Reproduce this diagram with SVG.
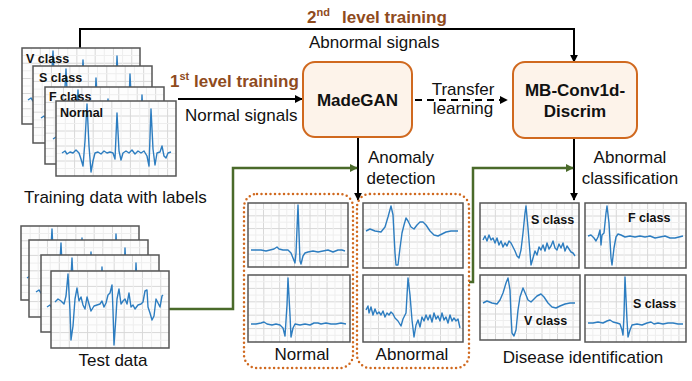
<svg xmlns="http://www.w3.org/2000/svg" xmlns:xlink="http://www.w3.org/1999/xlink" width="692" height="381" viewBox="0 0 692 381">
<style>
.t{font-family:"Liberation Sans",Arial,sans-serif;font-size:17px;fill:#111}
.b{font-weight:bold}
.br{font-family:"Liberation Sans",Arial,sans-serif;font-size:17px;font-weight:bold;fill:#8f4b1d}
.lab{font-family:"Liberation Sans",Arial,sans-serif;font-size:12.5px;font-weight:bold;fill:#111}
.frame{fill:none;stroke:#555;stroke-width:1.5}
.ecg{fill:none;stroke:#2d7dc0;stroke-width:1.4;stroke-linejoin:round}
.box{fill:#fdf3ea;stroke:#d0691f;stroke-width:2}
.dot{fill:none;stroke:#d0691f;stroke-width:2.5;stroke-dasharray:0 4.5;stroke-linecap:round}
.ln{fill:none;stroke:#000;stroke-width:2}
.gr{fill:none;stroke:#4a6a2a;stroke-width:2.5}
</style>
<defs>
<symbol id="grid" viewBox="0 0 100 65" preserveAspectRatio="none">
<rect width="100" height="65" fill="#fdfdfd"/>
<path d="M15.5 0V65M31 0V65M46.5 0V65M62 0V65M77.5 0V65M93 0V65M0 13H100M0 26H100M0 39H100M0 52H100" stroke="#d8d8d8" stroke-width="1" vector-effect="non-scaling-stroke"/>
<path d="M7.75 0V65M23.25 0V65M38.75 0V65M54.25 0V65M69.75 0V65M85.25 0V65M0 6.5H100M0 19.5H100M0 32.5H100M0 45.5H100M0 58.5H100" stroke="#eeeeee" stroke-width="1" vector-effect="non-scaling-stroke"/>
</symbol>
<polyline id="ecgTrain" class="ecg" points="6,52 9,50 11,53 14,51 17,52 20,49 23,52 25,58 27,65 29,40 31,3 33,45 35,71 37,60 39,52 42,51 45,53 48,50 51,52 54,51 57,52 59,58 61,12 63,50 65,59 67,52 70,50 73,52 76,49 79,53 82,50 85,52 88,50 91,55 93,65 95,8 97,48 99,64 101,52 104,51 106,45 108,55 110,57 112,52 115,51"/>
<marker id="ah" viewBox="0 0 10 10" refX="9" refY="5" markerWidth="8" markerHeight="8" markerUnits="userSpaceOnUse" orient="auto"><path d="M0,0 L10,5 L0,10 z" fill="#000"/></marker>
<marker id="ahg" viewBox="0 0 10 10" refX="9" refY="5" markerWidth="8" markerHeight="8" markerUnits="userSpaceOnUse" orient="auto"><path d="M0,0 L10,5 L0,10 z" fill="#4a6a2a"/></marker>
</defs>
<rect width="692" height="381" fill="#fff"/>

<g id="connectors">
<path class="ln" d="M80,48 V29 H574 V62" marker-end="url(#ah)"/>
<path class="ln" d="M178,99 H302" marker-end="url(#ah)"/>
<path class="ln" d="M415,100 H507" stroke-dasharray="7,5" marker-end="url(#ah)"/>
<path class="ln" d="M358,137 V200" marker-end="url(#ah)"/>
<path class="ln" d="M574,138 V200" marker-end="url(#ah)"/>
<path class="gr" d="M169,309 H233 V168 H357" marker-end="url(#ahg)"/>
<path class="gr" d="M469,282 H473 V168 H573" marker-end="url(#ahg)"/>
<text class="br" x="307" y="23">2<tspan font-size="11" dy="-7">nd</tspan><tspan x="342" dy="7">level training</tspan></text>
<text class="t" x="309" y="48">Abnormal signals</text>
<text class="br" x="170" y="87">1<tspan font-size="11" dy="-7">st</tspan><tspan dy="7"> level training</tspan></text>
<text class="t" x="185" y="121">Normal signals</text>
<text class="t" x="463" y="95" text-anchor="middle">Transfer</text>
<text class="t" x="463" y="114" text-anchor="middle">learning</text>
<text class="t" x="401" y="163" text-anchor="middle">Anomaly</text>
<text class="t" x="401" y="184" text-anchor="middle">detection</text>
<text class="t" x="630" y="163" text-anchor="middle">Abnormal</text>
<text class="t" x="630" y="184" text-anchor="middle">classification</text>
</g>

<g id="training-data">
<use href="#grid" x="22" y="48" width="118" height="76"/>
<use href="#ecgTrain" x="22" y="48"/>
<rect class="frame" x="22" y="48" width="118" height="76"/>
<text class="lab" x="26" y="63">V class</text>
<use href="#grid" x="33" y="66" width="119" height="77"/>
<use href="#ecgTrain" x="35" y="66"/>
<rect class="frame" x="33" y="66" width="119" height="77"/>
<text class="lab" x="39" y="82">S class</text>
<use href="#grid" x="45" y="87" width="119" height="77"/>
<use href="#ecgTrain" x="47" y="87"/>
<rect class="frame" x="45" y="87" width="119" height="77"/>
<text class="lab" x="49" y="101">F class</text>
<use href="#grid" x="56" y="101" width="120" height="75"/>
<use href="#ecgTrain" x="56" y="101"/>
<rect class="frame" x="56" y="101" width="120" height="75"/>
<text class="lab" x="60" y="117">Normal</text>
<text class="t" x="24" y="203">Training data with labels</text>
</g>

<g id="test-data">
<use href="#grid" x="21" y="226" width="118" height="74"/>
<use href="#ecgTrain" x="21" y="226"/>
<rect class="frame" x="21" y="226" width="118" height="74"/>
<use href="#grid" x="29" y="240" width="119" height="77"/>
<use href="#ecgTrain" x="30" y="240"/>
<rect class="frame" x="29" y="240" width="119" height="77"/>
<use href="#grid" x="41" y="255" width="118" height="77"/>
<use href="#ecgTrain" x="41" y="255"/>
<rect class="frame" x="41" y="255" width="118" height="77"/>
<use href="#grid" x="51" y="271" width="118" height="77"/>
<polyline class="ecg" transform="translate(51,271)" points="4,31 7,28 10,30 13,33 15,25 17,3 19,40 20,69 22,55 24,28 26,17 28,30 30,26 32,34 34,38 36,26 38,33 40,40 43,35 46,34 49,33 51,30 53,36 55,32 57,24 59,22 61,14 62,40 63,74 65,45 66,28 68,18 70,33 72,30 74,28 76,33 78,22 80,36 82,34 84,38 87,34 90,33 92,31 94,20 96,19 97,36 99,42 101,49 103,45 105,28 107,32 109,36 111,25 112,24"/>
<rect class="frame" x="51" y="271" width="118" height="77"/>
<text class="t" x="113" y="366" text-anchor="middle">Test data</text>
</g>

<g id="madegan">
<rect class="box" x="303" y="62" width="109" height="75" rx="12"/>
<text class="t b" x="357.5" y="106" text-anchor="middle">MadeGAN</text>
</g>

<g id="mb-conv1d-discrim">
<rect class="box" x="513" y="62" width="124" height="76" rx="12"/>
<text class="t b" x="575" y="96" text-anchor="middle">MB-Conv1d-</text>
<text class="t b" x="575" y="117" text-anchor="middle">Discrim</text>
</g>

<g id="normal-group">
<rect class="dot" x="244" y="194" width="109" height="174" rx="13"/>
<use href="#grid" x="248" y="203" width="100" height="64"/>
<polyline class="ecg" transform="translate(248,203)" points="3,47 8,47 13,47 18,48 22,47 26,46 29,44 31,46 35,47 40,47 43,50 45,55 47,60 48,50 50,2 52,58 53,61 55,53 57,50 60,49 65,48 70,49 75,48 80,47 85,49 90,47 94,47 97,48"/>
<rect class="frame" x="248" y="203" width="100" height="64"/>
<use href="#grid" x="248" y="275" width="102" height="67"/>
<polyline class="ecg" transform="translate(248,275)" points="3,49 8,49 13,48 16,47 19,49 24,50 28,49 32,50 35,53 37,61 39,30 40,3 42,40 43,62 45,53 47,49 52,50 57,49 62,50 66,48 70,48 73,49 78,48 83,49 88,49 93,48 98,49"/>
<rect class="frame" x="248" y="275" width="102" height="67"/>
<text class="t" x="302" y="360" text-anchor="middle">Normal</text>
</g>

<g id="abnormal-group">
<rect class="dot" x="357" y="194" width="112" height="174" rx="13"/>
<use href="#grid" x="363" y="203" width="100" height="65"/>
<polyline class="ecg" transform="translate(363,203)" points="3,28 7,26 12,28 18,29 22,24 25,14 28,3 30,12 32,50 33,62 35,62 37,45 39,30 41,22 43,15 45,18 48,24 51,26 54,22 57,19 60,19 63,22 67,28 71,32 75,33 79,31 83,29 88,28 95,28"/>
<rect class="frame" x="363" y="203" width="100" height="65"/>
<use href="#grid" x="363" y="275" width="100" height="67"/>
<polyline class="ecg" transform="translate(363,275)" points="3,35 5,31 6,38 8,32 10,40 12,34 14,39 16,37 18,40 20,36 22,42 24,38 26,40 28,37 30,39 32,43 35,46 38,51 40,44 43,38 45,3 47,20 49,45 51,62 53,50 55,45 57,52 59,42 61,46 63,40 65,45 67,40 69,47 71,38 73,44 75,41 77,46 79,38 81,45 83,42 85,48 87,40 89,46 91,43 93,46 95,44 97,53"/>
<rect class="frame" x="363" y="275" width="100" height="67"/>
<text class="t" x="412" y="360" text-anchor="middle">Abnormal</text>
</g>

<g id="disease-identification">
<use href="#grid" x="480" y="203" width="99" height="65"/>
<polyline class="ecg" transform="translate(480,203)" points="3,37 5,33 7,38 9,32 11,37 13,35 15,40 17,35 19,42 21,38 23,44 25,40 27,43 29,38 31,40 33,44 35,48 37,53 39,55 41,47 43,30 45,10 46,3 48,25 50,50 51,62 53,55 55,48 57,52 59,44 61,47 63,42 65,48 67,40 69,46 71,43 73,38 75,45 77,47 79,41 81,45 83,40 85,48 87,43 89,46 91,49 93,50 95,53"/>
<rect class="frame" x="480" y="203" width="99" height="65"/>
<text class="lab" x="531" y="224">S class</text>
<use href="#grid" x="585" y="203" width="101" height="65"/>
<polyline class="ecg" transform="translate(585,203)" points="3,33 6,32 9,35 11,38 13,34 15,27 16,42 17,32 19,30 21,10 22,3 24,20 26,55 27,62 29,45 31,34 33,31 36,32 40,34 45,33 50,34 55,33 60,34 65,33 70,35 75,34 80,33 85,35 90,35 94,34 98,33"/>
<rect class="frame" x="585" y="203" width="101" height="65"/>
<text class="lab" x="628" y="222">F class</text>
<use href="#grid" x="480" y="275" width="100" height="65"/>
<polyline class="ecg" transform="translate(480,275)" points="3,28 7,26 12,28 17,29 20,25 23,18 26,8 28,3 30,15 31,40 32,58 34,61 36,55 38,35 40,22 43,13 46,20 48,25 51,27 54,24 57,21 61,19 64,22 68,28 72,32 76,33 80,31 85,29 90,28 95,28"/>
<rect class="frame" x="480" y="275" width="100" height="65"/>
<text class="lab" x="524" y="325">V class</text>
<use href="#grid" x="585" y="275" width="101" height="67"/>
<polyline class="ecg" transform="translate(585,275)" points="3,48 8,48 13,47 18,48 22,46 25,45 28,47 32,48 35,49 37,55 38,60 39,40 40,2 42,45 43,62 45,55 47,50 52,49 57,50 62,48 66,47 69,49 73,48 78,49 83,48 88,48 93,49 98,49"/>
<rect class="frame" x="585" y="275" width="101" height="67"/>
<text class="lab" x="633" y="308">S class</text>
<text class="t" x="583" y="363" text-anchor="middle">Disease identification</text>
</g>
</svg>
